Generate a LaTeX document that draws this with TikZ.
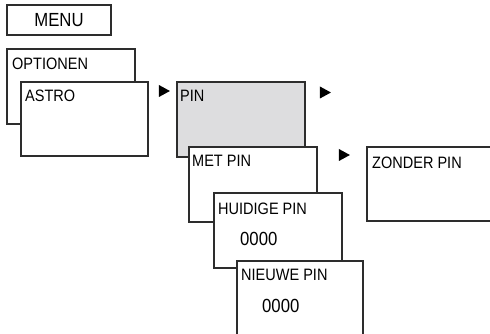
\documentclass[tikz,border=0pt]{standalone}
\usepackage{fontspec}
\setmainfont[FakeStretch=0.88]{Liberation Sans}
\usetikzlibrary{shapes.geometric}
\definecolor{edge}{RGB}{45,45,45}
\definecolor{pinfill}{RGB}{221,221,223}
\begin{document}
\begin{tikzpicture}[x=1pt,y=-1pt,
    screen/.style={rectangle, draw=edge, line width=1.2pt, fill=white,
      minimum width=128pt, minimum height=75pt, inner sep=0pt, outer sep=0pt,
      anchor=north west},
    caption/.style={anchor=base west, inner sep=0pt,
      font=\fontsize{16.5}{19}\selectfont},
    code/.style={anchor=base west, inner sep=0pt,
      font=\fontsize{19}{22}\selectfont},
    next/.style={isosceles triangle, isosceles triangle stretches,
      fill=black, inner sep=0pt, minimum width=12pt, minimum height=11pt,
      anchor=center}]
  \useasboundingbox (0,0) rectangle (490,334);
  \clip (0,0) rectangle (490,334);
  \node (menu) at (7,5) [screen, minimum width=104pt, minimum height=30pt]
    {\fontsize{19}{22}\selectfont MENU};
  \node (opt) at (7,49) [screen] {};
  \node (opt-t) at ([xshift=5pt,yshift=-21pt]opt.north west) [caption] {OPTIONEN};
  \node (astro) at (21,82) [screen, minimum width=127pt, minimum height=74pt] {};
  \node (astro-t) at ([xshift=4pt,yshift=-20pt]astro.north west) [caption] {ASTRO};
  \node (pin) at (177,82) [screen, fill=pinfill] {};
  \node (pin-t) at ([xshift=3pt,yshift=-20pt]pin.north west) [caption] {PIN};
  \node (met) at (189,147) [screen] {};
  \node (met-t) at ([xshift=3pt,yshift=-20pt]met.north west) [caption] {MET PIN};
  \node (cur) at (214,193) [screen] {};
  \node (cur-t) at ([xshift=4pt,yshift=-21pt]cur.north west) [caption] {HUIDIGE PIN};
  \node (cur-c) at ([xshift=26pt,yshift=-52pt]cur.north west) [code] {0000};
  \node (new) at (237,261) [screen, minimum width=126pt, minimum height=90pt] {};
  \node (new-t) at ([xshift=4pt,yshift=-19pt]new.north west) [caption] {NIEUWE PIN};
  \node (new-c) at ([xshift=25pt,yshift=-51pt]new.north west) [code] {0000};
  \node (none) at (367,147) [screen, minimum width=140pt, minimum height=74pt] {};
  \node (none-t) at ([xshift=5pt,yshift=-21pt]none.north west) [caption] {ZONDER PIN};
  \node (t1) at (162.5,91) [next] {};
  \node (t2) at (323.5,92.5) [next] {};
  \node (t3) at (342.5,155) [next] {};
\end{tikzpicture}
\end{document}
